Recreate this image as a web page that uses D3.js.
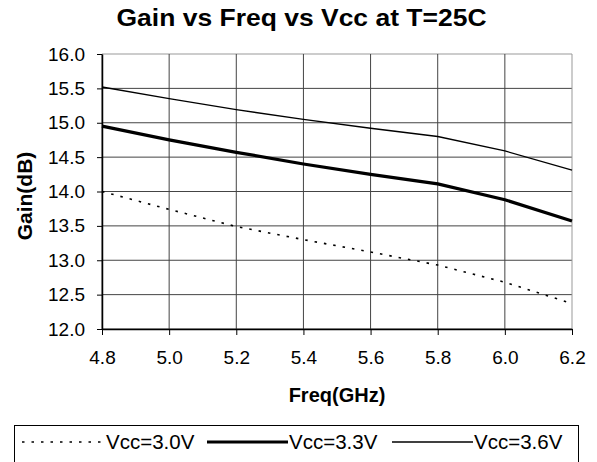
<!DOCTYPE html>
<html>
<head>
<meta charset="utf-8">
<script src="https://cdn.jsdelivr.net/npm/d3@7"></script>
<style>
  body { margin: 0; background: #fff; }
  svg { font-family: Arial, "Liberation Sans", sans-serif; }
</style>
</head>
<body>
<div class="container"></div>
<script>
const WIDTH = 597,
    HEIGHT = 462,
    LEFT = 102, RIGHT = 572, TOP = 54, BOTTOM = 329,
    FONT = 'Arial, "Liberation Sans", sans-serif';

var freq = [4.8, 5.0, 5.2, 5.4, 5.6, 5.8, 6.0, 6.2];
var vcc30 = [14.0, 13.74, 13.49, 13.30, 13.12, 12.93, 12.68, 12.37];
var vcc33 = [14.95, 14.75, 14.57, 14.40, 14.25, 14.11, 13.88, 13.57];
var vcc36 = [15.52, 15.35, 15.19, 15.05, 14.92, 14.80, 14.59, 14.31];
var xTicks = [4.8, 5.0, 5.2, 5.4, 5.6, 5.8, 6.0, 6.2];
var yTicks = [12.0, 12.5, 13.0, 13.5, 14.0, 14.5, 15.0, 15.5, 16.0];
var seriesNames = ['Vcc=3.0V', 'Vcc=3.3V', 'Vcc=3.6V'];

var translate = (x, y) => "translate(" + x + "," + y + ")";

var series = [
    { name: seriesNames[0], values: vcc30, width: 1.6, dash: '2.5,7' },
    { name: seriesNames[1], values: vcc33, width: 3.2, dash: null },
    { name: seriesNames[2], values: vcc36, width: 1.3, dash: null }
];

var svg = d3.select('.container').append('svg')
    .attr('width', WIDTH)
    .attr('height', HEIGHT);

var x = d3.scaleLinear().domain([4.8, 6.2]).range([LEFT, RIGHT]);
var y = d3.scaleLinear().domain([12, 16]).range([BOTTOM, TOP]);

// grid
svg.append('g').selectAll('line').data(yTicks).enter().append('line')
    .attr('x1', LEFT).attr('x2', RIGHT)
    .attr('y1', d => y(d)).attr('y2', d => y(d))
    .attr('stroke', d => d == 16 ? '#999' : '#444').attr('stroke-width', 1);
svg.append('g').selectAll('line').data(xTicks).enter().append('line')
    .attr('y1', TOP).attr('y2', BOTTOM)
    .attr('x1', d => x(d)).attr('x2', d => x(d))
    .attr('stroke', d => d == 6.2 ? '#999' : '#444').attr('stroke-width', 1);

// axes
var xAxis = d3.axisBottom(x).tickValues(xTicks).tickFormat(d3.format('.1f')).tickSize(6).tickSizeOuter(0).tickPadding(16);
var yAxis = d3.axisLeft(y).tickValues(yTicks).tickFormat(d3.format('.1f')).tickSize(5).tickSizeOuter(0).tickPadding(12);

var gx = svg.append('g').attr('transform', translate(0, BOTTOM)).call(xAxis);
var gy = svg.append('g').attr('transform', translate(LEFT, 0)).call(yAxis);
[gx, gy].forEach(g => {
    g.attr('font-size', 19).attr('font-family', FONT);
    g.select('.domain').attr('stroke', '#000').attr('stroke-width', 1.5);
    g.selectAll('.tick line').attr('stroke', '#000');
    g.selectAll('.tick text').attr('fill', '#000');
});

// lines
var line = d3.line()
    .x((d, i) => x(freq[i]))
    .y(d => y(d));

svg.append('g').selectAll('path').data(series).enter().append('path')
    .attr('d', d => line(d.values))
    .attr('fill', 'none')
    .attr('stroke', '#000')
    .attr('stroke-width', d => d.width)
    .attr('stroke-dasharray', d => d.dash);

// titles
svg.append('text')
    .attr('x', 301.5).attr('y', 26)
    .attr('text-anchor', 'middle')
    .attr('font-size', 24).attr('font-weight', 'bold')
    .attr('textLength', 370).attr('lengthAdjust', 'spacingAndGlyphs')
    .text('Gain vs Freq vs Vcc at T=25C');

svg.append('text')
    .attr('x', (LEFT + RIGHT) / 2).attr('y', 402)
    .attr('text-anchor', 'middle')
    .attr('font-size', 20).attr('font-weight', 'bold')
    .text('Freq(GHz)');

svg.append('text')
    .attr('transform', translate(32, 196) + ' rotate(-90)')
    .attr('text-anchor', 'middle')
    .attr('font-size', 21).attr('font-weight', 'bold')
    .text('Gain(dB)');

// legend
var legend = svg.append('g');
legend.append('rect')
    .attr('x', 14.5).attr('y', 425.5).attr('width', 564).attr('height', 45)
    .attr('fill', 'none').attr('stroke', '#000').attr('stroke-width', 1);

var legendX = [22, 207, 392];
var item = legend.selectAll('g.item').data(series).enter().append('g')
    .attr('transform', (d, i) => translate(legendX[i], 442));
item.append('line')
    .attr('x1', 0).attr('x2', d => d.dash ? 79 : 81).attr('y1', 0).attr('y2', 0)
    .attr('stroke', '#000')
    .attr('stroke-width', d => d.width)
    .attr('stroke-dasharray', d => d.dash);
item.append('text')
    .attr('x', d => d.dash ? 84 : 82).attr('y', 7)
    .attr('font-size', 20.5)
    .text(d => d.name);
</script>
</body>
</html>
